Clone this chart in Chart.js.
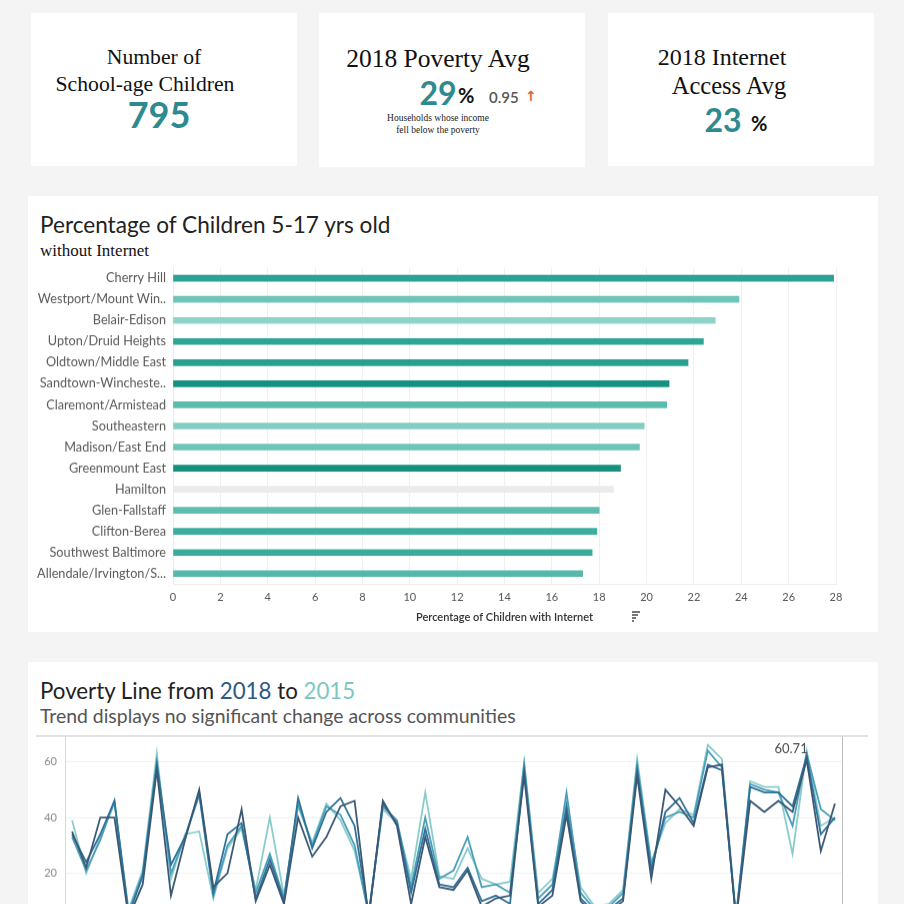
<!DOCTYPE html>
<html><head><meta charset="utf-8">
<script src="https://cdn.jsdelivr.net/npm/chart.js@4.4.1/dist/chart.umd.min.js"></script>
<style>
html,body{margin:0;padding:0;background:#f4f4f4;width:904px;height:904px;overflow:hidden;position:relative;}
.card{position:absolute;background:#fff;}
.t{position:absolute;white-space:nowrap;line-height:1;}
.c{transform:translate(-50%,-50%);}
.serif{font-family:"Liberation Serif","Times New Roman",serif;color:#111;}
.num{font-family:Lato,sans-serif;font-weight:700;color:#2d8a8f;}
.gill{font-family:Lato,sans-serif;color:#222;}
</style></head><body>
<div class="card" style="left:31px;top:13px;width:266px;height:153px"></div>
<div class="card" style="left:319px;top:13px;width:266px;height:154px"></div>
<div class="card" style="left:608px;top:13px;width:266px;height:153px"></div>
<div class="card" style="left:28px;top:196px;width:850px;height:436px"></div>
<div class="card" style="left:28px;top:662px;width:850px;height:300px"></div>

<div class="t c serif" style="left:154px;top:58px;font-size:21.7px">Number of</div>
<div class="t c serif" style="left:145px;top:85px;font-size:21.7px">School-age Children</div>
<div class="t c num" style="left:159px;top:114px;font-size:36px">795</div>

<div class="t c serif" style="left:438px;top:59px;font-size:25.5px">2018 Poverty Avg</div>
<div class="t c num" style="left:438px;top:93px;font-size:32px">29</div>
<div class="t" style="left:458px;top:85px;font-size:20px;font-family:Lato,sans-serif;font-weight:700;color:#111">%</div>
<div class="t" style="left:489px;top:90px;font-size:15px;font-family:Lato,sans-serif;font-weight:600;color:#555">0.95</div>
<div class="t" style="left:525px;top:89px;font-size:14px;font-family:'DejaVu Sans',sans-serif;font-weight:700;color:#e0643c">↑</div>
<div class="t c serif" style="left:438px;top:119px;font-size:9.5px;color:#222">Households whose income</div>
<div class="t c serif" style="left:438px;top:131px;font-size:9.5px;color:#222">fell below the poverty</div>

<div class="t c serif" style="left:722px;top:57px;font-size:24px">2018 Internet</div>
<div class="t c serif" style="left:729px;top:86px;font-size:24.5px">Access Avg</div>
<div class="t c num" style="left:723px;top:120px;font-size:32px">23</div>
<div class="t" style="left:751px;top:113px;font-size:20px;font-family:Lato,sans-serif;font-weight:700;color:#111">%</div>

<div class="t gill" style="left:40px;top:214px;font-size:22.6px">Percentage of Children 5-17 yrs old</div>
<div class="t serif" style="left:40px;top:242px;font-size:17px">without Internet</div>

<div style="position:absolute;left:28px;top:253.3px;width:850px;height:378.7px"><canvas id="bar"></canvas></div>
<div style="position:absolute;left:632px;top:611px;width:8px;height:1.5px;background:#777"></div>
<div style="position:absolute;left:632px;top:614px;width:6px;height:1.5px;background:#777"></div>
<div style="position:absolute;left:632px;top:617px;width:4px;height:1.5px;background:#777"></div>
<div style="position:absolute;left:632px;top:620px;width:2px;height:1.5px;background:#777"></div>

<div class="t gill" style="left:40px;top:680px;font-size:22.3px">Poverty Line from <span style="color:#2c5985">2018</span> to <span style="color:#7cc8c1">2015</span></div>
<div class="t gill" style="left:40px;top:706px;font-size:19.4px;color:#555">Trend displays no significant change across communities</div>
<div style="position:absolute;left:36px;top:735px;width:832px;height:2px;background:#e2e2e2"></div>
<div style="position:absolute;left:28px;top:722.4px;width:850px;height:227.6px"><canvas id="line"></canvas></div>

<script>
// ---------- Bar chart data ----------
const barCategories = ["Cherry Hill","Westport/Mount Win..","Belair-Edison","Upton/Druid Heights","Oldtown/Middle East","Sandtown-Wincheste..","Claremont/Armistead","Southeastern","Madison/East End","Greenmount East","Hamilton","Glen-Fallstaff","Clifton-Berea","Southwest Baltimore","Allendale/Irvington/S..."];
const barValues = [27.9,23.9,22.9,22.4,21.75,20.95,20.85,19.9,19.7,18.9,18.6,18.0,17.9,17.7,17.3];
const barColors = ["#2ba394","#6ec5b9","#8fd2c8","#2fa695","#26a08f","#17917f","#5bbcae","#84cdc3","#6dc4b8","#14907d","#ebebeb","#5ebdaf","#3cae9e","#3aac9c","#55b8aa"];
const barTickValues = [0,2,4,6,8,10,12,14,16,18,20,22,24,26,28];

// ---------- Line chart data ----------
const communities = ["Allendale/Irvington/S. Hilton","Beechfield/Ten Hills/West Hills","Belair-Edison","Brooklyn/Curtis Bay/Hawkins Point","Canton","Cedonia/Frankford","Cherry Hill","Chinatown/Lexington Market","Claremont/Armistead","Clifton-Berea","Cross-Country/Cheswolde","Dickeyville/Franklintown","Dorchester/Ashburton","Downtown/Seton Hill","Edmondson Village","Fells Point","Forest Park/Walbrook","Glen-Fallstaff","Greater Charles Village/Barclay","Greater Govans","Greater Mondawmin","Greater Roland Park/Poplar Hill","Greater Rosemont","Greenmount East","Hamilton","Harbor East/Little Italy","Harford/Echodale","Highlandtown","Howard Park/West Arlington","Inner Harbor/Federal Hill","Lauraville","Loch Raven","Madison/East End","Medfield/Hampden/Woodberry/Remington","Midtown","Midway/Coldstream","Morrell Park/Violetville","Mount Washington/Coldspring","North Baltimore/Guilford/Homeland","Northwood","Oldtown/Middle East","Orangeville/East Highlandtown","Patterson Park North & East","Penn North/Reservoir Hill","Pimlico/Arlington/Hilltop","Poppleton/The Terraces/Hollins Market","Sandtown-Winchester/Harlem Park","South Baltimore","Southeastern","Southern Park Heights","Southwest Baltimore","The Waverlies","Upton/Druid Heights","Washington Village/Pigtown","Westport/Mount Winans/Lakeland"];
const poverty2018 = [35,22,40,40,4,16,57,12,32,50,15,20,43,10,23,9,40,26,33,44,46,4,46,37,9,33,15,14,21,8,11,12,55,8,12,41,10,5,6,10,55,18,50,44,37,58,59,3,46,42,46,42,60.71,28,45];
const poverty2017 = [34,24,34,46,5,19,59,23,33,49,13,34,38,11,25,10,47,29,42,47,37,5,45,38,13,36,16,15,22,10,12,9,57,9,14,44,11,6,7,11,57,21,42,47,38,59,57,4,51,49,49,44,62,34,40];
const poverty2016 = [33,21,32,46,6,20,60,20,33,48,12,30,37,13,27,11,45,30,44,41,30,5,44,39,15,40,18,21,33,15,16,13,59,11,16,49,13,7,8,13,59,23,40,42,40,64,58,4,52,50,49,37,63,43,39];
const poverty2015 = [39,20,33,45,7,21,63,18,34,35,11,29,36,14,40,12,44,31,45,39,28,6,43,38,18,49,19,18,29,18,16,17,60,13,18,45,15,8,9,14,61,24,38,43,41,66,61,5,53,51,51,27,64,37,40];
const povertyYTicks = [20,40,60];
const lineSeries = [
  {label:"2018", data:poverty2018, color:"#3a5874"},
  {label:"2017", data:poverty2017, color:"#2f7199"},
  {label:"2016", data:poverty2016, color:"#4a9fb8"},
  {label:"2015", data:poverty2015, color:"#8acbcb"}
];

const tickFont = {family:"Lato, sans-serif", size:11};

new Chart(document.getElementById('bar'), {
  type:'bar',
  data:{labels:barCategories, datasets:[{data:barValues, backgroundColor:barColors, barThickness:6, borderWidth:0}]},
  options:{
    indexAxis:'y', responsive:true, maintainAspectRatio:false, animation:false,
    layout:{padding:{top:0,right:42,left:0,bottom:8.4}},
    plugins:{legend:{display:false}, tooltip:{enabled:false}},
    scales:{
      x:{min:0,max:28,
        afterBuildTicks:(s)=>{s.ticks = barTickValues.map(v=>({value:v}));},
        afterFit:(s)=>{s.height=40;},
        grid:{color:'#f0f0f0', drawTicks:false},
        border:{color:'#ececec'},
        ticks:{padding:7, color:'#555', font:tickFont, maxRotation:0},
        title:{display:true, text:'Percentage of Children with Internet', color:'#333', font:{family:"Lato, sans-serif", size:11, weight:'600'}, padding:{top:0,bottom:0}}
      },
      y:{
        afterFit:(s)=>{s.width=145;},
        grid:{display:false, drawTicks:false},
        border:{color:'#ececec'},
        ticks:{padding:7, color:'#5a5a5a', font:{family:"Lato, sans-serif", size:12.7}}
      }
    }
  }
});

const peakLabel = {
  id:'peakLabel',
  afterDatasetsDraw(chart){
    const ds = chart.data.datasets[0].data;
    let mi = 0; ds.forEach((v,i)=>{ if(v>ds[mi]) mi=i; });
    const pt = chart.getDatasetMeta(0).data[mi];
    const ctx = chart.ctx;
    ctx.save();
    ctx.font = "13px Lato, sans-serif";
    ctx.fillStyle = '#4a4a4a';
    ctx.textAlign = 'right';
    ctx.textBaseline = 'middle';
    ctx.fillText(String(ds[mi]), pt.x + 1, pt.y - 11);
    ctx.restore();
  },
  afterDraw(chart){
    const a = chart.chartArea, ctx = chart.ctx;
    ctx.save();
    ctx.strokeStyle = '#bdbdbd'; ctx.lineWidth = 1;
    ctx.beginPath(); ctx.moveTo(a.right+0.5, a.top); ctx.lineTo(a.right+0.5, a.bottom); ctx.stroke();
    ctx.restore();
  }
};

new Chart(document.getElementById('line'), {
  type:'line',
  data:{labels:communities, datasets:lineSeries.map(s=>({label:s.label, data:s.data, borderColor:s.color, backgroundColor:s.color, borderWidth:1.8, pointRadius:0, tension:0}))},
  options:{
    responsive:true, maintainAspectRatio:false, animation:false,
    layout:{padding:{top:0,right:36,left:0,bottom:21.5}},
    plugins:{legend:{display:false}, tooltip:{enabled:false}},
    scales:{
      x:{display:false, offset:true},
      y:{min:0, max:69,
        afterBuildTicks:(s)=>{s.ticks = povertyYTicks.map(v=>({value:v}));},
        afterFit:(s)=>{s.width=37;},
        grid:{color:'#f1f1f1', drawTicks:false},
        border:{color:'#d8d8d8'},
        ticks:{padding:8, color:'#888', font:tickFont}
      }
    }
  },
  plugins:[peakLabel]
});
</script>
</body></html>
